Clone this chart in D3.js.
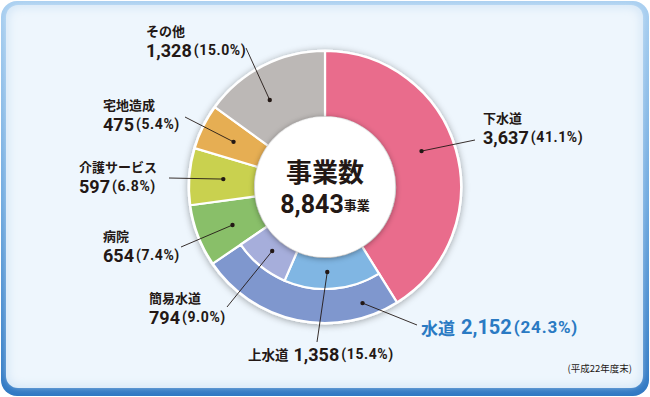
<!DOCTYPE html>
<html><head><meta charset="utf-8">
<script src="https://cdn.jsdelivr.net/npm/d3@7/dist/d3.min.js"></script>
<style>
html,body{margin:0;padding:0;background:#fff;}
svg{display:block;}
text{font-family:"Noto Sans CJK JP","Noto Sans",sans-serif;font-weight:700;fill:#231815;}
.num{font-family:Roboto,"Noto Sans",sans-serif;font-weight:700;}
</style></head>
<body>
<svg id="chart" width="650" height="397"></svg>
<script>
// ---- data ----
const categories = ["下水道", "水道", "病院", "介護サービス", "宅地造成", "その他"];
const values = [3637, 2152, 654, 597, 475, 1328];
const percents = ["41.1%", "24.3%", "7.4%", "6.8%", "5.4%", "15.0%"];
const subCategories = ["上水道", "簡易水道"];
const subValues = [1358, 794];
const subPercents = ["15.4%", "9.0%"];
const totalLabel = "事業数";
const totalValue = 8843;
const totalUnit = "事業";
const noteText = "(平成22年度末)";

// ---- styling / layout ----
const colors = {"下水道":"#e96c8c","水道":"#7f97ce","病院":"#89bf69","介護サービス":"#c9d14f","宅地造成":"#e6ae52","その他":"#bcb8b6","上水道":"#80b6e3","簡易水道":"#a6aedb"};
const W = 650, H = 397;
const cx = 325, cy = 187, R = 136, r0 = 70, rMid = 102;
const layout = {
  "下水道":   {x:483, y1:117, y2:137, lx:475, ly:140, dr:103, at:0.47},
  "水道":     {x:421, y2:327, lx:417, ly:325, dr:122, at:0.16, inline:true, blue:true},
  "病院":     {x:103, y1:235, y2:255, lx:181, ly:247, dr:100, at:0.45},
  "介護サービス":{x:79, y1:166, y2:186, lx:169, ly:178, dr:102, at:0.5},
  "宅地造成": {x:103, y1:104, y2:124, lx:185, ly:117, dr:102, at:0.5},
  "その他":   {x:146, y1:30, y2:50, lx:246, ly:48, dr:103, at:0.4},
  "上水道":   {x:248, y2:354, lx:317, ly:342, dr:85, at:0.55, inline:true},
  "簡易水道": {x:149, y1:297, y2:317, lx:227, ly:307, dr:83, at:0.5}
};

const svg = d3.select("#chart");
const defs = svg.append("defs");

const fg = defs.append("linearGradient").attr("id","frameGrad").attr("x1",0).attr("y1",0).attr("x2",0).attr("y2",1);
fg.append("stop").attr("offset","0%").attr("stop-color","#a9cff0");
fg.append("stop").attr("offset","50%").attr("stop-color","#6fa9df");
fg.append("stop").attr("offset","100%").attr("stop-color","#2f78c3");

const ig = defs.append("filter").attr("id","innerGlow").attr("x","-5%").attr("y","-5%").attr("width","110%").attr("height","110%");
ig.append("feGaussianBlur").attr("stdDeviation",4);

const ds = defs.append("filter").attr("id","donutShadow").attr("x","-20%").attr("y","-20%").attr("width","140%").attr("height","140%");
ds.append("feDropShadow").attr("dx",0).attr("dy",1).attr("stdDeviation",3.5).attr("flood-color","#000").attr("flood-opacity",0.35);

const cs = defs.append("filter").attr("id","centerShadow").attr("x","-30%").attr("y","-30%").attr("width","160%").attr("height","160%");
cs.append("feDropShadow").attr("dx",0).attr("dy",1).attr("stdDeviation",3).attr("flood-color","#000").attr("flood-opacity",0.45);

// frame
svg.append("rect").attr("x",1).attr("y",1).attr("width",W-2).attr("height",H-2).attr("rx",16).attr("fill","url(#frameGrad)");
svg.append("rect").attr("x",6).attr("y",5).attr("width",W-13).attr("height",H-14).attr("rx",12).attr("fill","#d7e8f7");
svg.append("rect").attr("x",9).attr("y",8).attr("width",W-19).attr("height",H-20).attr("rx",10).attr("fill","#eef6fd").attr("filter","url(#innerGlow)");

// donut
const pie = d3.pie().sort(null).value(d => d.v);
const mainData = categories.map((c,i) => ({c, v:values[i], p:percents[i]}));
const arcs = pie(mainData);
const waterArc = arcs.find(a => a.data.c === "水道");
const subScale = d3.scaleLinear().domain([0, d3.sum(subValues)]).range([waterArc.startAngle, waterArc.endAngle]);
let acc = 0;
const subArcs = subCategories.map((c,i) => {
  const s = subScale(acc); acc += subValues[i];
  return {startAngle:s, endAngle:subScale(acc), data:{c, v:subValues[i], p:subPercents[i]}};
});

const g = svg.append("g").attr("transform",`translate(${cx},${cy})`);
const donut = g.append("g").attr("filter","url(#donutShadow)");
const arcFull = d3.arc().innerRadius(r0).outerRadius(R);
const arcOuterBand = d3.arc().innerRadius(rMid).outerRadius(R);
const arcInnerBand = d3.arc().innerRadius(r0).outerRadius(rMid);

donut.append("circle").attr("r",R+1.5).attr("fill","#fff");
donut.selectAll("path.main").data(arcs).join("path").attr("class","main")
  .attr("d", d => d.data.c === "水道" ? arcOuterBand(d) : arcFull(d))
  .attr("fill", d => colors[d.data.c]).attr("stroke","#fff").attr("stroke-width",2.2).attr("stroke-linejoin","round");
donut.selectAll("path.sub").data(subArcs).join("path").attr("class","sub")
  .attr("d", arcInnerBand)
  .attr("fill", d => colors[d.data.c]).attr("stroke","#fff").attr("stroke-width",2.2);

g.append("circle").attr("r",r0).attr("fill","#fff").attr("filter","url(#centerShadow)");
g.append("circle").attr("r",r0-1).attr("fill","#fff");

// leader lines + dots
function dotPos(a, L){
  const ang = a.startAngle + (a.endAngle - a.startAngle) * L.at;
  return [cx + L.dr*Math.sin(ang), cy - L.dr*Math.cos(ang)];
}
const allArcs = arcs.concat(subArcs);
const leaders = svg.append("g");
allArcs.forEach(a => {
  const L = layout[a.data.c];
  const [dx, dy] = dotPos(a, L);
  leaders.append("line").attr("x1",L.lx).attr("y1",L.ly).attr("x2",dx).attr("y2",dy).attr("stroke","#231815").attr("stroke-width",0.9);
  leaders.append("circle").attr("cx",dx).attr("cy",dy).attr("r",2.2).attr("fill","#231815");
});

// labels
const fmt = d3.format(",");
const labels = svg.append("g");
allArcs.forEach(a => {
  const L = layout[a.data.c];
  const col = L.blue ? "#2a7ac3" : "#231815";
  if (!L.inline) {
    labels.append("text").attr("x",L.x).attr("y",L.y1).attr("dominant-baseline","central")
      .style("font-size","13px").style("fill",col).text(a.data.c);
    const t = labels.append("text").attr("class","num").attr("x",L.x).attr("y",L.y2).attr("dominant-baseline","central").style("fill",col);
    t.append("tspan").style("font-size","18px").text(fmt(a.data.v));
    t.append("tspan").attr("dx",2).style("font-size","14px").style("letter-spacing","0.6px").text(`(${a.data.p})`);
  } else {
    const big = L.blue;
    const t = labels.append("text").attr("x",L.x).attr("y",L.y2).attr("dominant-baseline","central").style("fill",col);
    t.append("tspan").style("font-size", big ? "17px" : "13.5px").text(a.data.c);
    t.append("tspan").attr("class","num").attr("dx", big ? 6 : 5).style("font-size", big ? "20px" : "18px").text(fmt(a.data.v));
    t.append("tspan").attr("class","num").attr("dx",2).style("font-size", big ? "17px" : "14px").style("letter-spacing", big ? "0.8px" : "0.6px").text(`(${a.data.p})`);
  }
});

// center text
svg.append("text").attr("x",cx).attr("y",170).attr("text-anchor","middle").attr("dominant-baseline","central")
  .style("font-size","26px").text(totalLabel);
const ct = svg.append("text").attr("x",cx).attr("y",204).attr("text-anchor","middle").attr("dominant-baseline","central");
ct.append("tspan").attr("class","num").style("font-size","25px").text(fmt(totalValue));
ct.append("tspan").style("font-size","13px").text(totalUnit);

// note
svg.append("text").attr("x",632).attr("y",368).attr("text-anchor","end").attr("dominant-baseline","central")
  .style("font-size","9.5px").style("font-weight","400").text(noteText);
</script>
</body></html>
